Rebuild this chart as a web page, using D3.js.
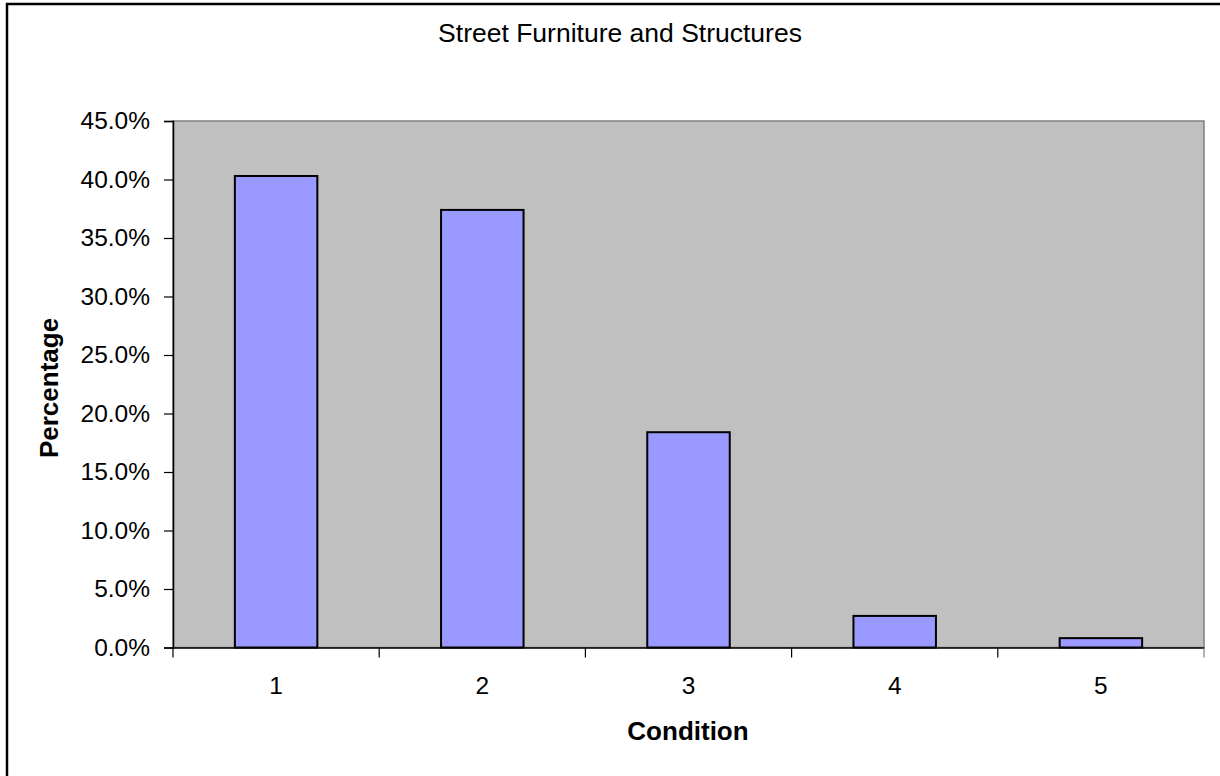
<!DOCTYPE html>
<html>
<head>
<meta charset="utf-8">
<script src="https://cdn.jsdelivr.net/npm/d3@7"></script>
<style>
  body { margin: 0; background: #fff; }
  text { font-family: "Liberation Sans", Arial, sans-serif; fill: #000; }
</style>
</head>
<body>
<script>
var categorias = ["1", "2", "3", "4", "5"];
var valores = [0.403, 0.374, 0.184, 0.027, 0.008];
var ticksY = [0, 0.05, 0.10, 0.15, 0.20, 0.25, 0.30, 0.35, 0.40, 0.45];

var w = 1220;
var h = 776;
var izq = 173, arriba = 121, der = 1204, abajo = 647.5;

var svg = d3.select('body')
    .append('svg')
    .attr('width', w)
    .attr('height', h);

// marco exterior (se sale por la derecha y abajo)
svg.append('rect')
    .attr('x', 7).attr('y', 4)
    .attr('width', 1240).attr('height', 800)
    .attr('fill', 'none')
    .attr('stroke', '#000')
    .attr('stroke-width', 2.5);

var x = d3.scaleBand()
    .domain(categorias)
    .range([izq, der])
    .paddingInner(0.6)
    .paddingOuter(0.3);

var y = d3.scaleLinear()
    .domain([0, 0.45])
    .range([abajo, arriba]);

// fondo gris del area
svg.append('rect')
    .attr('x', izq).attr('y', arriba)
    .attr('width', der - izq).attr('height', abajo - arriba)
    .attr('fill', '#C0C0C0')
    .attr('stroke', '#808080')
    .attr('stroke-width', 1.5);

// barras
svg.selectAll('rect.barra')
    .data(valores)
    .enter()
    .append('rect')
    .attr('class', 'barra')
    .attr('x', function(d, i){ return x(categorias[i]); })
    .attr('width', x.bandwidth())
    .attr('y', function(d){ return y(d); })
    .attr('height', function(d){ return abajo - y(d); })
    .attr('fill', '#9999FF')
    .attr('stroke', '#000')
    .attr('stroke-width', 2);

// eje y
var ejeY = svg.append('g')
    .attr('transform', 'translate(' + izq + ',0)')
    .call(d3.axisLeft(y).tickValues(ticksY).tickFormat(d3.format('.1%')).tickSize(9).tickPadding(14));
ejeY.select('.domain').attr('stroke', '#000').attr('stroke-width', 1.5);
ejeY.selectAll('.tick line').attr('stroke', '#000').attr('stroke-width', 1.2);
ejeY.selectAll('text').style('font-size', '24.5px');

// eje x: marcas en los bordes de cada categoria
var paso = (der - izq) / categorias.length;
var ejeX = svg.append('g')
    .attr('transform', 'translate(0,' + abajo + ')')
    .call(d3.axisBottom(x).tickSize(0).tickPadding(29));
ejeX.select('.domain').attr('stroke', '#000').attr('stroke-width', 1.5);
ejeX.selectAll('text').style('font-size', '24.5px');
ejeX.selectAll('line.borde')
    .data(d3.range(categorias.length + 1))
    .enter()
    .append('line')
    .attr('class', 'borde')
    .attr('x1', function(i){ return izq + i * paso; })
    .attr('x2', function(i){ return izq + i * paso; })
    .attr('y1', 0).attr('y2', 10)
    .attr('stroke', function(i){ return i == categorias.length ? '#808080' : '#000'; })
    .attr('stroke-width', 1.2);

// textos
svg.append('text')
    .attr('x', 620).attr('y', 42)
    .attr('text-anchor', 'middle')
    .style('font-size', '26.5px')
    .text('Street Furniture and Structures');

svg.append('text')
    .attr('x', 688).attr('y', 740)
    .attr('text-anchor', 'middle')
    .style('font-size', '26px')
    .style('font-weight', 'bold')
    .text('Condition');

svg.append('text')
    .attr('transform', 'translate(58,388) rotate(-90)')
    .attr('text-anchor', 'middle')
    .style('font-size', '26px')
    .style('font-weight', 'bold')
    .text('Percentage');
</script>
</body>
</html>
